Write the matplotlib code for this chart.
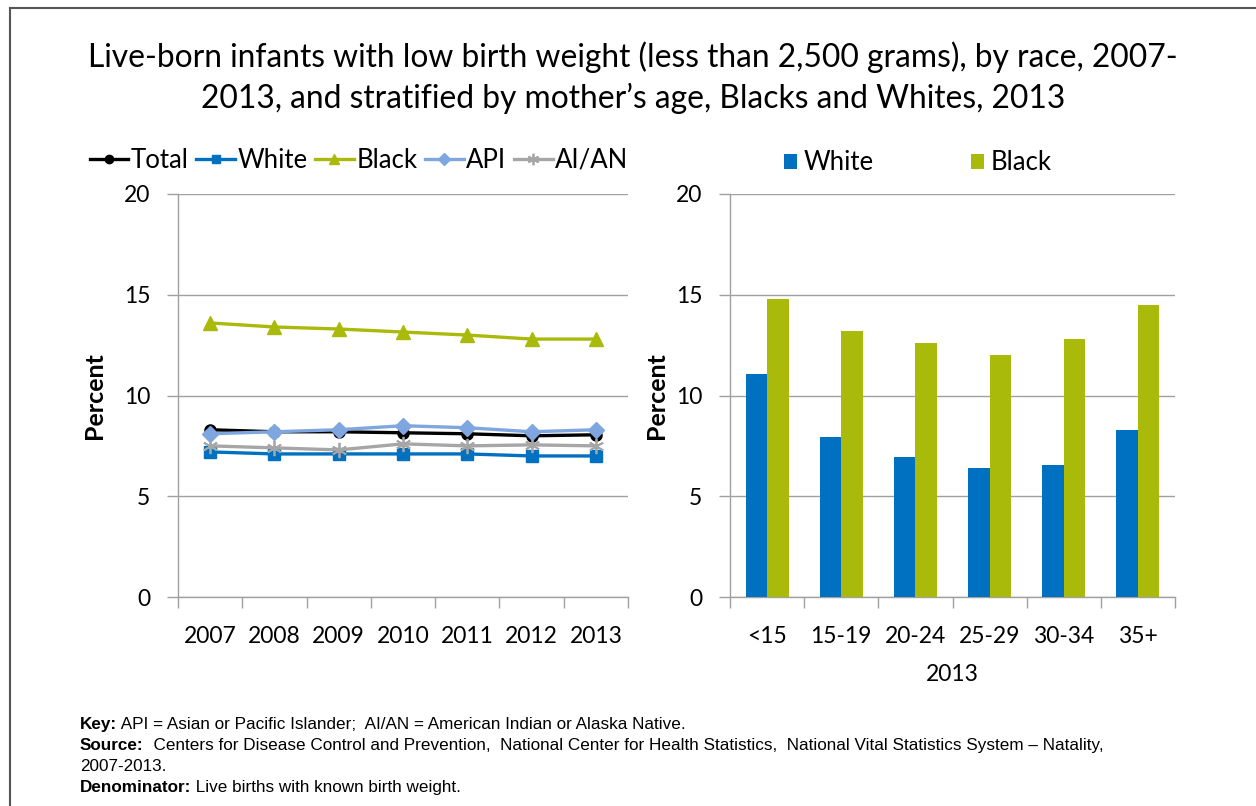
import matplotlib
matplotlib.use("Agg")
import matplotlib.pyplot as plt
from matplotlib.lines import Line2D
import numpy as np

years = ["2007", "2008", "2009", "2010", "2011", "2012", "2013"]
total = [8.3, 8.2, 8.2, 8.15, 8.1, 8.0, 8.05]
white = [7.2, 7.1, 7.1, 7.1, 7.1, 7.0, 7.0]
black = [13.6, 13.4, 13.3, 13.15, 13.0, 12.8, 12.8]
api = [8.1, 8.2, 8.3, 8.5, 8.4, 8.2, 8.3]
aian = [7.5, 7.4, 7.3, 7.6, 7.5, 7.55, 7.5]

age_groups = ["<15", "15-19", "20-24", "25-29", "30-34", "35+"]
white_age = [11.05, 7.95, 6.95, 6.4, 6.55, 8.3]
black_age = [14.8, 13.2, 12.6, 12.0, 12.8, 14.5]

C_WHITE = "#0070C0"
C_BLACK = "#AABA0A"
C_API = "#7FA6DE"
C_AIAN = "#A6A6A6"
C_GRID = "#A0A0A0"

FONT = ["Lato", "DejaVu Sans"]
plt.rcParams['font.family'] = FONT

W, H = 1256, 806
fig = plt.figure(figsize=(W / 100, H / 100), dpi=100)

def px(x0, y_top, x1, y_bot):
    return [x0 / W, (H - y_bot) / H, (x1 - x0) / W, (y_bot - y_top) / H]

# border
fig.add_artist(Line2D([10 / W, 10 / W], [0, 1 - 8 / H], color="#555555", lw=1.5, transform=fig.transFigure))
fig.add_artist(Line2D([10 / W, 1], [1 - 8 / H, 1 - 8 / H], color="#555555", lw=1.5, transform=fig.transFigure))

# title
fig.text(633 / W, 1 - 57 / H, "Live-born infants with low birth weight (less than 2,500 grams), by race, 2007-",
         ha="center", va="center", fontsize=22.9)
fig.text(633 / W, 1 - 98 / H, "2013, and stratified by mother\u2019s age, Blacks and Whites, 2013",
         ha="center", va="center", fontsize=22.9)

def style_axes(ax, n, ylab_x):
    ax.set_ylim(0, 20)
    ax.set_yticks([0, 5, 10, 15, 20])
    ax.set_xlim(0, n)
    ax.set_xticks(np.arange(n) + 0.5)
    ax.set_xticks(np.arange(n + 1), minor=True)
    ax.tick_params(axis="x", which="major", length=0, labelsize=16.5, pad=21, colors="black")
    ax.tick_params(axis="x", which="minor", length=8, color=C_GRID, width=1)
    ax.tick_params(axis="y", length=8, color=C_GRID, width=1, labelsize=16.5, pad=12)
    for s in ["top", "right"]:
        ax.spines[s].set_visible(False)
    for s in ["left", "bottom"]:
        ax.spines[s].set_color(C_GRID)
        ax.spines[s].set_linewidth(1)
    ax.grid(axis="y", color=C_GRID, lw=1)
    ax.set_axisbelow(True)
    ax.set_ylabel("Percent", fontsize=18, fontweight="bold")
    ax.yaxis.set_label_coords(ylab_x, 0.5)

# left line chart
ax1 = fig.add_axes(px(178, 194, 628, 597))
style_axes(ax1, len(years), -72 / 450)
x = np.arange(len(years)) + 0.5
lw = 2.4
ax1.plot(x, total, color="black", lw=lw, marker="o", ms=8, label="Total", zorder=3)
ax1.plot(x, white, color=C_WHITE, lw=lw, marker="s", ms=8, label="White", zorder=3)
ax1.plot(x, black, color=C_BLACK, lw=lw, marker="^", ms=10, label="Black", zorder=3)
ax1.plot(x, api, color=C_API, lw=lw, marker="D", ms=8, label="API", zorder=4)
ax1.plot(x, aian, color=C_AIAN, lw=lw, marker=(6, 2, 0), ms=11, mew=1.3, label="AI/AN", zorder=3)
ax1.set_xticklabels(years)
leg1 = ax1.legend(loc="center", bbox_to_anchor=(359 / W, 1 - 160 / H), bbox_transform=fig.transFigure,
                  ncol=5, frameon=False, fontsize=18.5, handlelength=1.5, handletextpad=0.1,
                  columnspacing=0.3, markerscale=0.75, borderpad=0, borderaxespad=0)

# right bar chart
ax2 = fig.add_axes(px(730, 194, 1175, 597))
style_axes(ax2, len(age_groups), -62 / 445)
xb = np.arange(len(age_groups)) + 0.5
bw = 0.29
ax2.bar(xb - bw / 2, white_age, width=bw, color=C_WHITE, label="White", zorder=3)
ax2.bar(xb + bw / 2, black_age, width=bw, color=C_BLACK, label="Black", zorder=3)
ax2.set_xticklabels(age_groups)
ax2.set_xlabel("2013", fontsize=16.5, labelpad=12)
leg2 = ax2.legend(loc="center", bbox_to_anchor=(918 / W, 1 - 163 / H), bbox_transform=fig.transFigure,
                  ncol=2, frameon=False, fontsize=18.5, handlelength=0.5, handleheight=0.5,
                  handletextpad=0.27, columnspacing=3.8, borderpad=0, borderaxespad=0)

# footnotes
NF = ["Liberation Sans", "DejaVu Sans"]
fs = 12.3
def foot(y, bold, rest):
    t = fig.text(80 / W, 1 - y / H, bold, fontsize=fs, fontweight="bold", family=NF, va="baseline")
    fig.canvas.draw()
    bb = t.get_window_extent()
    fig.text(bb.x1 / W, 1 - y / H, rest, fontsize=fs, family=NF, va="baseline")

foot(729, "Key:", " API = Asian or Pacific Islander;  AI/AN = American Indian or Alaska Native.")
foot(750, "Source:", "  Centers for Disease Control and Prevention,  National Center for Health Statistics,  National Vital Statistics System \u2013 Natality,")
fig.text(80 / W, 1 - 771 / H, "2007-2013.", fontsize=fs, family=NF, va="baseline")
foot(792, "Denominator:", " Live births with known birth weight.")

fig.savefig("out.png", dpi=100)
